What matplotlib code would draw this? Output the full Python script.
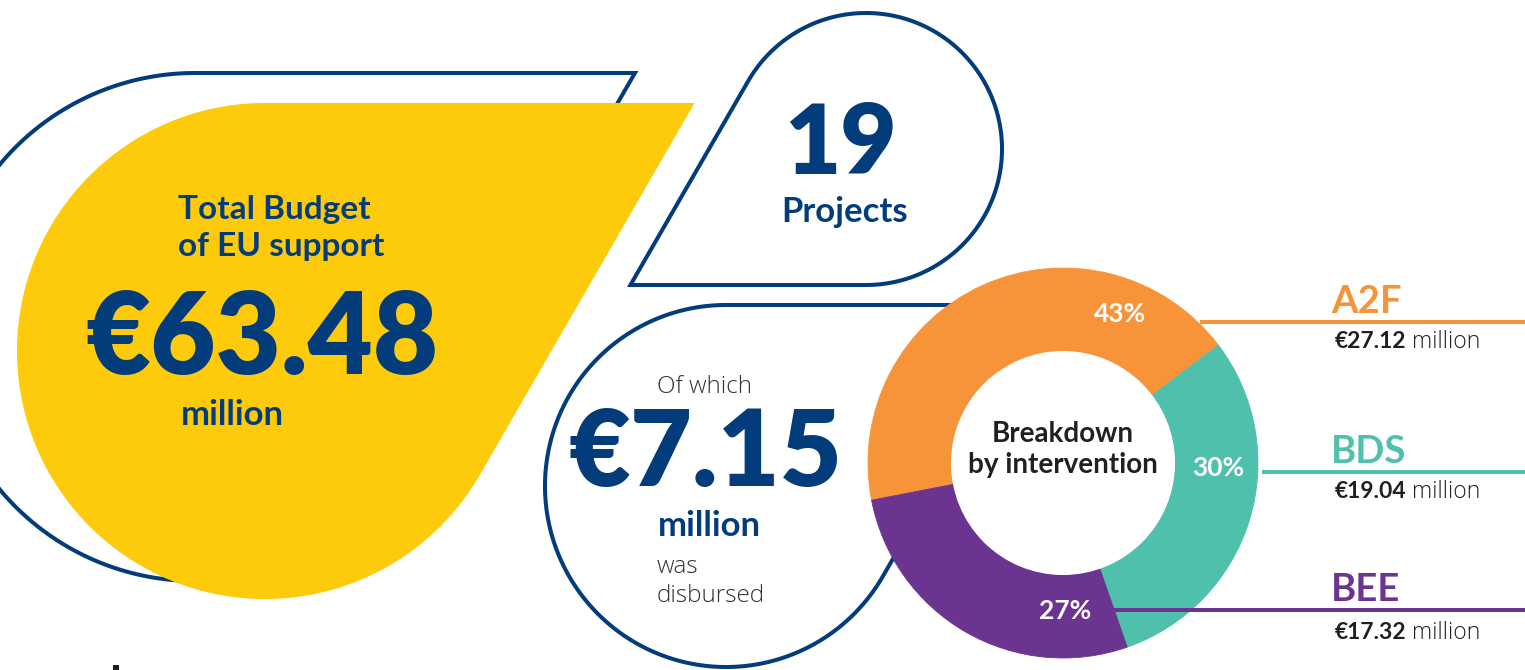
import numpy as np
import matplotlib
matplotlib.use('Agg')
import matplotlib.pyplot as plt
from matplotlib.patches import Polygon, Circle, Rectangle

W, H = 1525, 670

# ---------------- data ----------------
categories = ['A2F', 'BDS', 'BEE']
amounts = [27.12, 19.04, 17.32]          # EUR million
shares = ['43%', '30%', '27%']
total_budget = '€63.48'
disbursed = '€7.15'
n_projects = '19'

cat_colors = ['#f7943a', '#4fc0ab', '#6b3490']
NAVY = '#023c7a'
YELLOW = '#fdca0c'
DARK = '#231f20'
GREY = '#333333'
FONT = 'Lato'
LIGHT_FONT = 'Open Sans'

fig = plt.figure(figsize=(W / 100, H / 100), dpi=100)
ax = fig.add_axes([0, 0, 1, 1])
ax.set_xlim(0, W)
ax.set_ylim(0, H)


def Y(y):
    return H - y


def teardrop(cx, cy, r, corner_deg, n=300):
    """Circle with a 60-degree corner; image coords (y down)."""
    th = np.radians(np.linspace(corner_deg + 60, corner_deg + 300, n))
    xs = cx + r * np.cos(th)
    ys = cy + r * np.sin(th)
    c = np.radians(corner_deg)
    px, py = cx + 2 * r * np.cos(c), cy + 2 * r * np.sin(c)
    pts = np.vstack([[px, py], np.column_stack([xs, ys])])
    pts[:, 1] = H - pts[:, 1]
    return pts


LW = 2.9
ax.add_patch(Polygon(teardrop(195, 327, 254, -30), closed=True, fc='white',
                     ec=NAVY, lw=LW, joinstyle='miter', zorder=1))
ax.add_patch(Polygon(teardrop(265, 351, 248, -30), closed=True, fc=YELLOW,
                     ec='none', zorder=2))
ax.add_patch(Polygon(teardrop(866, 149, 136, 150), closed=True, fc='none',
                     ec=NAVY, lw=LW, joinstyle='miter', zorder=2))
ax.add_patch(Polygon(teardrop(726, 486, 181, -30), closed=True, fc='white',
                     ec=NAVY, lw=LW, joinstyle='miter', zorder=2))

# ---------------- donut ----------------
DC = (1063, Y(463))
R_OUT, R_IN = 195, 112
wedges, _ = ax.pie(amounts, colors=cat_colors, startangle=191,
                   counterclock=False, radius=R_OUT, center=DC, frame=True,
                   wedgeprops=dict(width=R_OUT - R_IN, linewidth=0.6))
for w, c in zip(wedges, cat_colors):
    w.set_edgecolor(c)
    w.set_zorder(3)
ax.add_patch(Circle(DC, R_IN, fc='white', ec='none', zorder=4))
ax.set_xlim(0, W)
ax.set_ylim(0, H)

# percent labels (angle in degrees, radius in px)
lab_ang = [69, -2, -89]
lab_rad = [160, 155, 148]
for s, a, rr in zip(shares, lab_ang, lab_rad):
    ax.text(DC[0] + rr * np.cos(np.radians(a)), DC[1] + rr * np.sin(np.radians(a)),
            s, color='white', fontsize=19, weight='bold', family=FONT,
            ha='center', va='center', zorder=6)

ax.text(DC[0], Y(442), 'Breakdown', fontsize=20, weight='bold', color=DARK,
        family=FONT, ha='center', va='baseline', zorder=6)
ax.text(DC[0], Y(473), 'by intervention', fontsize=20, weight='bold', color=DARK,
        family=FONT, ha='center', va='baseline', zorder=6)

# leader lines + legend texts
line_y = [322, 472, 610]
line_x0 = [1200, 1262, 1112]
cat_base = [313, 463, 601]
amt_base = [348, 498, 639]
amt_texts = []
for cat, amt, col, ly, lx, cb, ab in zip(categories, amounts, cat_colors,
                                          line_y, line_x0, cat_base, amt_base):
    ax.plot([lx, W], [Y(ly), Y(ly)], color=col, lw=LW, solid_capstyle='butt', zorder=5)
    ax.text(1331, Y(cb), cat, fontsize=27.5, weight='bold', color=col, family=FONT,
            ha='left', va='baseline', zorder=6)
    t1 = ax.text(1335, Y(ab), f'€{amt:.2f}', fontsize=16.5, weight='bold', color=DARK,
                 family=FONT, ha='left', va='baseline', zorder=6)
    amt_texts.append((t1, ab))

fig.canvas.draw()
renderer = fig.canvas.get_renderer()
inv = ax.transData.inverted()
for t1, ab in amt_texts:
    bb = t1.get_window_extent(renderer)
    x_end = inv.transform((bb.x1, bb.y0))[0]
    ax.text(x_end + 5, Y(ab), 'million', fontsize=16.5, weight='light',
            color=DARK, family=LIGHT_FONT, ha='left', va='baseline', zorder=6)

# ---------------- left texts ----------------
ax.text(178, Y(219), 'Total Budget', fontsize=24, weight='bold', color=NAVY,
        family=FONT, va='baseline', zorder=6)
ax.text(178, Y(256), 'of EU support', fontsize=24, weight='bold', color=NAVY,
        family=FONT, va='baseline', zorder=6)
ax.text(85, Y(374), total_budget, fontsize=81, weight='heavy', color=NAVY,
        family=FONT, va='baseline', zorder=6)
ax.text(181, Y(425), 'million', fontsize=25, weight='bold', color=NAVY,
        family=FONT, va='baseline', zorder=6)

ax.text(840, Y(174), n_projects, fontsize=70, weight='heavy', color=NAVY,
        family=FONT, ha='center', va='baseline', zorder=6)
ax.text(845, Y(222), 'Projects', fontsize=25, weight='bold', color=NAVY,
        family=FONT, ha='center', va='baseline', zorder=6)

ax.text(657, Y(393), 'Of which', fontsize=17.5, weight='light', color=GREY,
        family=LIGHT_FONT, va='baseline', zorder=6)
ax.text(569, Y(486), disbursed, fontsize=77, weight='heavy', color=NAVY,
        family=FONT, va='baseline', zorder=6)
ax.text(658, Y(536), 'million', fontsize=25, weight='bold', color=NAVY,
        family=FONT, va='baseline', zorder=6)
ax.text(657, Y(573), 'was', fontsize=17.5, weight='light', color=GREY,
        family=LIGHT_FONT, va='baseline', zorder=6)
ax.text(657, Y(602), 'disbursed', fontsize=17.5, weight='light', color=GREY,
        family=LIGHT_FONT, va='baseline', zorder=6)

ax.add_patch(Rectangle((113, 0), 6, 5, fc=DARK, ec='none', zorder=6))

ax.set_xlim(0, W)
ax.set_ylim(0, H)
ax.set_aspect('auto')
ax.axis('off')
fig.savefig('out.png', dpi=100, facecolor='white')
